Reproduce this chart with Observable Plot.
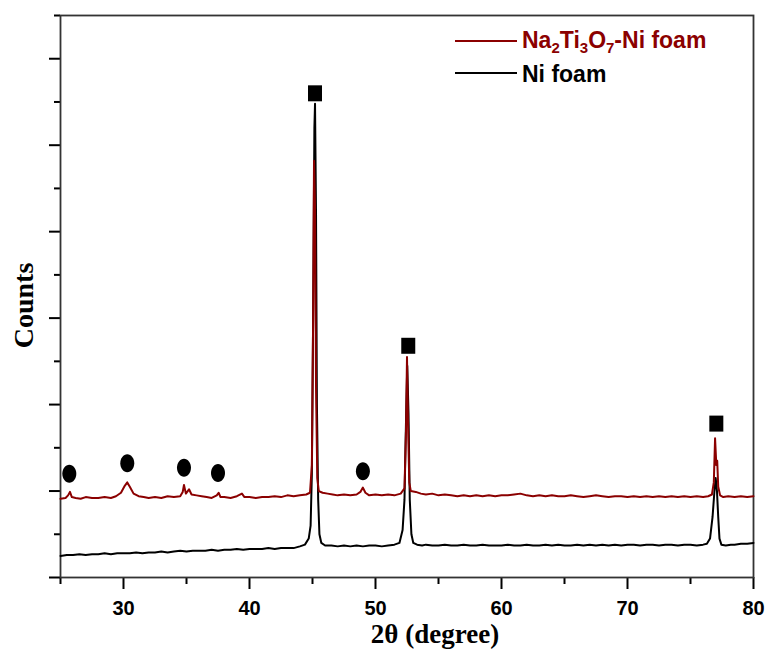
<!DOCTYPE html>
<html>
<head>
<meta charset="utf-8">
<script src="https://cdn.jsdelivr.net/npm/d3@7"></script>
<script src="https://cdn.jsdelivr.net/npm/@observablehq/plot@0.6"></script>
<style>
  html, body { margin: 0; padding: 0; background: #fff; }
  #wrap { position: relative; width: 768px; height: 650px; }
  .leg { position: absolute; font-family: "Liberation Sans", Arial, sans-serif; font-weight: bold; font-size: 23px; line-height: 1; white-space: nowrap; }
  .legline { position: absolute; height: 2px; }
  sub { font-size: 15px; vertical-align: -5px; line-height: 0; }
</style>
</head>
<body>
<div id="wrap"></div>
<script>
// ---- data ----
const seriesNames = ["Na\u2082Ti\u2083O\u2087-Ni foam", "Ni foam"];
const seriesColors = ["#8b0000", "#000000"];

// Na2Ti3O7-Ni foam pattern: [2θ, counts (arb.)]
const naTiPattern = [
  [25.0,0.91],[25.4,0.92],[25.6,0.95],[25.75,0.99],[25.9,0.93],[26.2,0.92],[26.6,0.91],[27.0,0.93],
  [27.5,0.92],[28.0,0.92],[28.5,0.93],[29.0,0.92],[29.4,0.94],[29.8,0.98],[30.1,1.06],[30.3,1.10],
  [30.5,1.05],[30.8,0.97],[31.2,0.94],[31.6,0.93],[32.0,0.92],[32.5,0.93],[33.0,0.92],[33.5,0.94],
  [34.0,0.93],[34.5,0.94],[34.7,0.99],[34.8,1.07],[34.95,0.97],[35.2,1.02],[35.4,0.96],[35.8,0.95],
  [36.2,0.94],[36.6,0.93],[37.0,0.92],[37.4,0.95],[37.55,0.98],[37.7,0.93],[38.0,0.93],[38.5,0.92],
  [39.0,0.94],[39.4,0.97],[39.6,0.93],[40.0,0.93],[40.5,0.92],[41.0,0.93],[41.5,0.93],[42.0,0.94],
  [42.5,0.93],[43.0,0.95],[43.5,0.94],[44.0,0.95],[44.5,0.96],[44.8,0.98],[44.95,1.30],[45.05,3.00],
  [45.12,4.82],[45.2,4.30],[45.28,2.20],[45.38,1.15],[45.5,1.00],[45.8,0.98],[46.2,0.97],[46.6,0.96],
  [47.0,0.95],[47.5,0.96],[48.0,0.95],[48.5,0.96],[48.8,0.99],[49.0,1.04],[49.2,0.98],[49.5,0.95],
  [50.0,0.96],[50.5,0.95],[51.0,0.96],[51.5,0.95],[52.0,0.97],[52.3,1.03],[52.42,1.70],[52.5,2.55],
  [52.58,1.80],[52.68,1.10],[52.8,1.00],[53.2,0.99],[53.6,0.97],[54.0,0.96],[54.5,0.97],[55.0,0.95],
  [55.5,0.96],[56.0,0.95],[56.5,0.94],[57.0,0.95],[57.5,0.94],[58.0,0.95],[58.5,0.94],[59.0,0.95],
  [59.5,0.94],[60.0,0.95],[60.5,0.95],[61.0,0.96],[61.5,0.97],[62.0,0.95],[62.5,0.94],[63.0,0.95],
  [63.5,0.94],[64.0,0.95],[64.5,0.94],[65.0,0.94],[65.5,0.95],[66.0,0.94],[66.5,0.93],[67.0,0.94],
  [67.5,0.95],[68.0,0.94],[68.5,0.93],[69.0,0.94],[69.5,0.94],[70.0,0.93],[70.5,0.94],[71.0,0.93],
  [71.5,0.94],[72.0,0.93],[72.5,0.94],[73.0,0.93],[73.5,0.94],[74.0,0.93],[74.5,0.94],[75.0,0.93],
  [75.5,0.94],[76.0,0.93],[76.4,0.94],[76.7,0.96],[76.85,1.10],[76.95,1.61],[77.05,1.30],[77.12,1.35],
  [77.2,1.05],[77.35,0.95],[77.6,0.93],[78.0,0.94],[78.5,0.93],[79.0,0.94],[79.5,0.93],[80.0,0.94]
];

// Ni foam pattern: [2θ, counts (arb.)]
const niFoamPattern = [
  [25.0,0.25],[25.5,0.26],[26.0,0.26],[26.5,0.27],[27.0,0.26],[27.5,0.27],[28.0,0.27],[28.5,0.28],
  [29.0,0.27],[29.5,0.28],[30.0,0.28],[30.5,0.28],[31.0,0.29],[31.5,0.28],[32.0,0.29],[32.5,0.29],
  [33.0,0.30],[33.5,0.29],[34.0,0.30],[34.5,0.31],[35.0,0.30],[35.5,0.31],[36.0,0.31],[36.5,0.31],
  [37.0,0.32],[37.5,0.31],[38.0,0.32],[38.5,0.32],[39.0,0.33],[39.5,0.32],[40.0,0.33],[40.5,0.33],
  [41.0,0.33],[41.5,0.34],[42.0,0.33],[42.5,0.34],[43.0,0.34],[43.5,0.34],[44.0,0.36],[44.4,0.38],
  [44.7,0.45],[44.85,0.60],[44.95,1.20],[45.05,3.00],[45.15,5.20],[45.2,5.48],[45.28,4.20],[45.35,2.00],
  [45.45,0.90],[45.55,0.50],[45.7,0.40],[46.0,0.37],[46.5,0.37],[47.0,0.36],[47.5,0.37],[48.0,0.36],
  [48.5,0.37],[49.0,0.36],[49.5,0.37],[50.0,0.37],[50.5,0.36],[51.0,0.37],[51.5,0.38],[51.9,0.40],
  [52.15,0.55],[52.3,0.90],[52.42,1.80],[52.52,2.45],[52.62,1.90],[52.72,0.90],[52.85,0.50],[53.0,0.40],
  [53.3,0.38],[53.7,0.37],[54.0,0.38],[54.5,0.37],[55.0,0.37],[55.5,0.38],[56.0,0.37],[56.5,0.37],
  [57.0,0.38],[57.5,0.37],[58.0,0.37],[58.5,0.38],[59.0,0.37],[59.5,0.37],[60.0,0.37],[60.5,0.38],
  [61.0,0.37],[61.5,0.37],[62.0,0.38],[62.5,0.37],[63.0,0.37],[63.5,0.38],[64.0,0.37],[64.5,0.38],
  [65.0,0.37],[65.5,0.37],[66.0,0.38],[66.5,0.37],[67.0,0.38],[67.5,0.37],[68.0,0.38],[68.5,0.37],
  [69.0,0.38],[69.5,0.37],[70.0,0.38],[70.5,0.38],[71.0,0.37],[71.5,0.38],[72.0,0.38],[72.5,0.37],
  [73.0,0.38],[73.5,0.38],[74.0,0.37],[74.5,0.38],[75.0,0.38],[75.5,0.37],[76.0,0.38],[76.3,0.39],
  [76.55,0.45],[76.75,0.70],[76.9,1.00],[77.0,1.15],[77.1,1.00],[77.2,0.70],[77.3,0.45],[77.45,0.38],
  [77.8,0.37],[78.2,0.38],[78.5,0.38],[79.0,0.39],[79.5,0.39],[80.0,0.40]
];

// Phase markers
const niPeakX = [45.2, 52.6, 77.05];       // ■ Ni
const niPeakY = [5.60, 2.68, 1.78];
const ntoPeakX = [25.7, 30.3, 34.8, 37.5, 49.0]; // ● Na2Ti3O7
const ntoPeakY = [1.20, 1.32, 1.27, 1.21, 1.23];

// Axis ticks
const xMajorTicks = [30, 40, 50, 60, 70, 80];
const xMinorTicks = [25, 35, 45, 55, 65, 75];
const yMajorTicks = [0, 1, 2, 3, 4, 5, 6];
const yMinorTicks = [0.5, 1.5, 2.5, 3.5, 4.5, 5.5, 6.5];

// ---- build ----
const squares = niPeakX.map((x, i) => ({x, y: niPeakY[i]}));
const circles = ntoPeakX.map((x, i) => ({x, y: ntoPeakY[i]}));

const ellipseSymbol = {
  draw(ctx) {
    const rx = 7, ry = 9, k = 0.5523;
    ctx.moveTo(rx, 0);
    ctx.bezierCurveTo(rx, ry * k, rx * k, ry, 0, ry);
    ctx.bezierCurveTo(-rx * k, ry, -rx, ry * k, -rx, 0);
    ctx.bezierCurveTo(-rx, -ry * k, -rx * k, -ry, 0, -ry);
    ctx.bezierCurveTo(rx * k, -ry, rx, -ry * k, rx, 0);
    ctx.closePath();
  }
};
const squareSymbol = {
  draw(ctx) {
    ctx.moveTo(-7, -8); ctx.lineTo(7, -8); ctx.lineTo(7, 8); ctx.lineTo(-7, 8); ctx.closePath();
  }
};

const serif = "'Liberation Serif', 'Times New Roman', serif";

const chart = Plot.plot({
  width: 768,
  height: 650,
  marginLeft: 60,
  marginRight: 15,
  marginTop: 15,
  marginBottom: 73,
  x: {domain: [25, 80]},
  y: {domain: [0, 6.5]},
  style: {background: "#fff", fontFamily: "'Liberation Sans', Arial, sans-serif", color: "#000"},
  marks: [
    Plot.axisX({ticks: xMajorTicks, tickSize: 12, tickPadding: 11, tickFormat: d => String(d),
      fontSize: 20, fontWeight: "bold", strokeWidth: 2, label: null}),
    Plot.axisX({ticks: xMinorTicks, tickSize: 7, tickFormat: () => "", strokeWidth: 2, label: null}),
    Plot.axisY({ticks: yMajorTicks, tickSize: 11, tickFormat: () => "", strokeWidth: 2, label: null}),
    Plot.axisY({ticks: yMinorTicks, tickSize: 6, tickFormat: () => "", strokeWidth: 2, label: null}),
    Plot.frame({stroke: "#333", strokeWidth: 1.8}),
    Plot.line(niFoamPattern, {x: d => d[0], y: d => d[1], stroke: seriesColors[1], strokeWidth: 2}),
    Plot.line(naTiPattern, {x: d => d[0], y: d => d[1], stroke: seriesColors[0], strokeWidth: 2}),
    Plot.dot(squares, {x: "x", y: "y", symbol: squareSymbol, fill: "#000", stroke: "none"}),
    Plot.dot(circles, {x: "x", y: "y", symbol: ellipseSymbol, fill: "#000", stroke: "none"}),
    Plot.text(["2\u03b8 (degree)"], {frameAnchor: "bottom", textAnchor: "middle", lineAnchor: "middle",
      dx: 28, dy: 57, fontSize: 27, fontWeight: "bold", fontFamily: serif, fill: "#000"}),
    Plot.text(["Counts"], {frameAnchor: "left", textAnchor: "middle", lineAnchor: "middle",
      dx: -36, dy: 9, rotate: -90, fontSize: 28, fontWeight: "bold", fontFamily: serif, fill: "#000"})
  ]
});

const wrap = document.getElementById("wrap");
wrap.appendChild(chart);

// legend overlay
const legendRows = [
  {html: "Na<sub>2</sub>Ti<sub>3</sub>O<sub>7</sub>-Ni foam", color: seriesColors[0], lineY: 41, textTop: 29},
  {html: seriesNames[1], color: seriesColors[1], lineY: 73, textTop: 63}
];
for (const r of legendRows) {
  const ln = document.createElement("div");
  ln.className = "legline";
  ln.style.left = "455px"; ln.style.width = "62px";
  ln.style.top = (r.lineY - 1) + "px";
  ln.style.background = r.color;
  wrap.appendChild(ln);
  const tx = document.createElement("div");
  tx.className = "leg";
  tx.style.left = "522px"; tx.style.top = r.textTop + "px";
  tx.style.color = r.color;
  tx.innerHTML = r.html;
  wrap.appendChild(tx);
}
</script>
</body>
</html>
